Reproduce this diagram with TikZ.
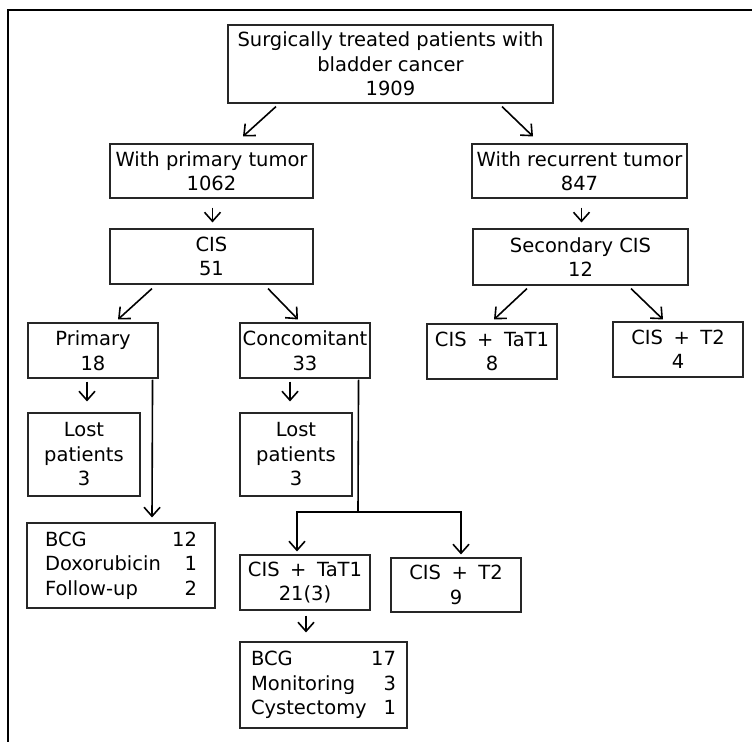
\documentclass[tikz,border=0pt]{standalone}
\usepackage{fontspec}
\setmainfont{DejaVu Sans}
\usetikzlibrary{arrows.meta}
\newcommand\cisplus{\hspace{10.5pt}+\hspace{10.5pt}}
\begin{document}
\begin{tikzpicture}[x=1pt,y=-1pt,
  box/.style={draw=black!85, line width=1.1pt, inner sep=0pt, align=center,
    font=\fontsize{19.5}{24.5}\selectfont},
  arr/.style={line width=1.6pt, -{Straight Barb[length=9pt,width=16pt,line width=1.6pt]}},
  ln/.style={line width=1.6pt},
  frame/.style={line width=1.8pt}]
\useasboundingbox (0,0) rectangle (752,742);
\draw[frame] (752,10) -- (8,10) -- (8,742);

\node[box, minimum width=325pt, minimum height=78pt] (top) at (390.5,64)
  {Surgically treated patients with\\bladder cancer\\1909};
\node[box, minimum width=203pt, minimum height=54pt] (prim) at (211.5,171)
  {With primary tumor\\1062};
\node[box, minimum width=203pt, minimum height=55pt] (cis) at (211.5,256.5)
  {CIS\\51};
\node[box, minimum width=215pt, minimum height=54pt] (rec) at (579.5,171)
  {With recurrent tumor\\847};
\node[box, minimum width=215pt, minimum height=56pt] (sec) at (580.5,257)
  {Secondary CIS\\12};
\node[box, minimum width=130pt, minimum height=55pt] (primary) at (93,350.5)
  {Primary\\18};
\node[box, minimum width=130pt, minimum height=55pt] (conc) at (305,350.5)
  {Concomitant\\33};
\node[box, minimum width=112pt, minimum height=83pt] (lost1) at (84,454.5)
  {Lost\\patients\\3};
\node[box, minimum width=112pt, minimum height=83pt] (lost2) at (296,454.5)
  {Lost\\patients\\3};
\node[box, minimum width=188pt, minimum height=85pt, text width=152pt, align=left] (bcg1) at (121,565.5)
  {BCG\hfill 12\\Doxorubicin\hfill 1\\Follow-up\hfill 2};
\node[box, minimum width=130pt, minimum height=55pt] (tat1) at (305,582.5)
  {CIS\cisplus TaT1\\21(3)};
\node[box, minimum width=130pt, minimum height=54pt] (t2) at (456,585)
  {CIS\cisplus T2\\9};
\node[box, minimum width=167pt, minimum height=86pt, text width=145pt, align=left] (bcg2) at (323.5,685)
  {BCG\hfill 17\\Monitoring\hfill 3\\Cystectomy\hfill 1};
\node[box, minimum width=130pt, minimum height=55pt] (rtat) at (492,351.5)
  {CIS\cisplus TaT1\\8};
\node[box, minimum width=130pt, minimum height=55pt] (rt2) at (678,349.5)
  {CIS\cisplus T2\\4};

% connectors
\draw[arr] ([xshift=-114.5pt,yshift=-3pt]top.south) -- ([xshift=31.5pt,yshift=7pt]prim.north);
\draw[arr] ([xshift=111.5pt,yshift=-3pt]top.south) -- ([xshift=-46.5pt,yshift=7pt]rec.north);
\draw[arr] ([xshift=1pt,yshift=-9pt]prim.south) -- ([xshift=1pt,yshift=6pt]cis.north);
\draw[arr] ([xshift=2pt,yshift=-9pt]rec.south) -- ([xshift=1pt,yshift=6pt]sec.north);
\draw[arr] ([xshift=-59.5pt,yshift=-4pt]cis.south) -- ([xshift=25pt,yshift=3pt]primary.north);
\draw[arr] ([xshift=56.5pt,yshift=-4pt]cis.south) -- ([xshift=-7pt,yshift=3pt]conc.north);
\draw[arr] ([xshift=-53.5pt,yshift=-3pt]sec.south) -- ([xshift=2pt,yshift=4pt]rtat.north);
\draw[arr] ([xshift=50.5pt,yshift=-3pt]sec.south) -- ([xshift=-15pt,yshift=2pt]rt2.north);
\draw[arr] ([xshift=-6pt,yshift=-3pt]primary.south) -- ([xshift=3pt,yshift=11pt]lost1.north);
\draw[arr] ([xshift=-15pt,yshift=-3pt]conc.south) -- ([xshift=-6pt,yshift=11pt]lost2.north);
\draw[arr] ([xshift=-6pt,yshift=-1pt]primary.south east) -- ([xshift=31pt,yshift=5pt]bcg1.north);
\coordinate (split) at (358,512);
\draw[ln] ([xshift=-12pt,yshift=-1pt]conc.south east) -- (split);
\draw[arr] (split) -| ([xshift=-8pt,yshift=3pt]tat1.north);
\draw[arr] (split) -| ([xshift=5pt,yshift=3pt]t2.north);
\draw[arr] ([xshift=1pt,yshift=-5pt]tat1.south) -- ([xshift=-17.5pt,yshift=9pt]bcg2.north);
\end{tikzpicture}
\end{document}
